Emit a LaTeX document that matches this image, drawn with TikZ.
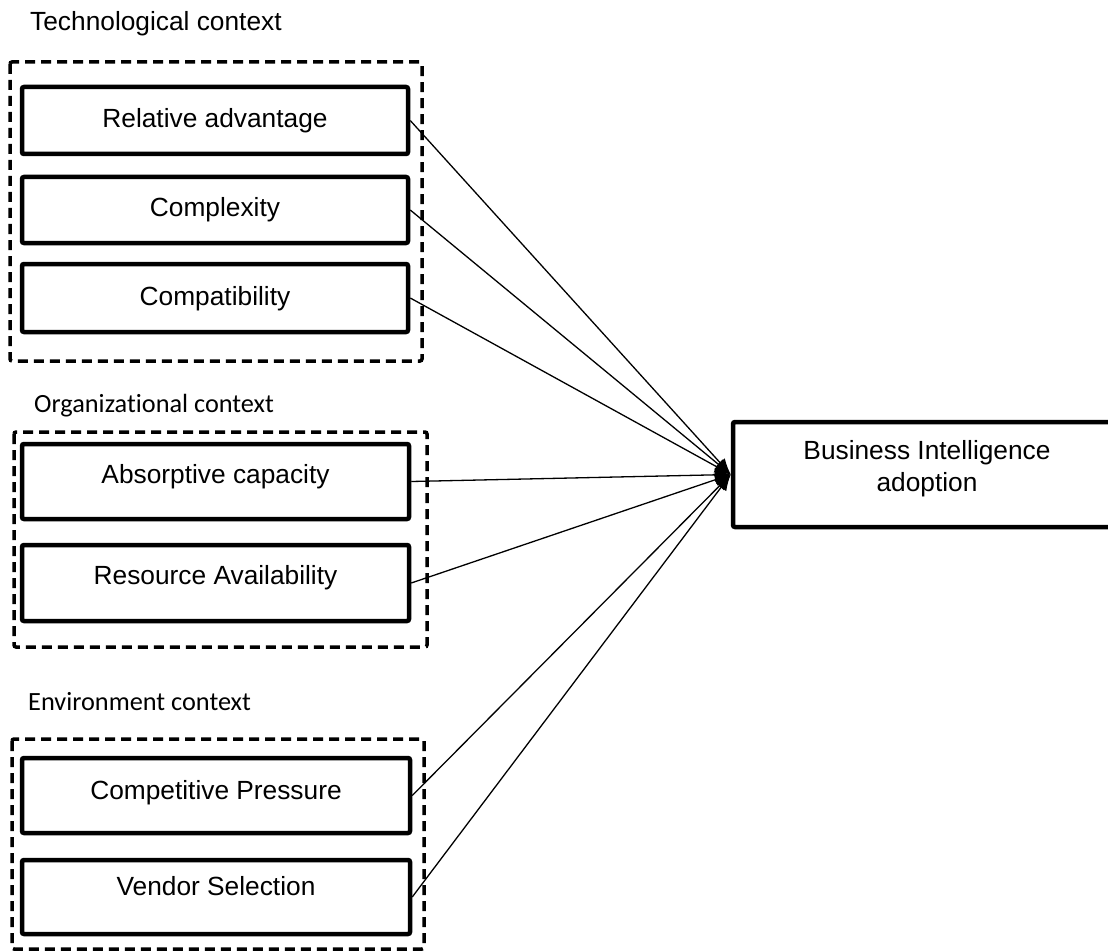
\documentclass[tikz,border=0pt]{standalone}
\usepackage{fontspec}
\setmainfont{Liberation Sans}
\newfontfamily\calibrilike[Ligatures=NoCommon]{Carlito}
\usetikzlibrary{arrows.meta}

\begin{document}
\begin{tikzpicture}[x=1pt,y=-1pt,
  every node/.style={font=\fontsize{26.3}{32}\selectfont, inner sep=0pt},
  inbox/.style={draw, line width=4.5pt, rounded corners=2pt, rectangle},
  ctxbox/.style={draw, line width=3.5pt, dash pattern=on 10pt off 6pt, rounded corners=2pt},
  boxtext/.style={anchor=base},
  ctxlabel/.style={anchor=base west},
  sublabel/.style={ctxlabel, font=\calibrilike\fontsize{26.3}{32}\selectfont},
  conn/.style={line width=1.3pt, -{Latex[length=16pt,width=13pt]}}]

\useasboundingbox (0,0) rectangle (1108,952);
\clip (0,0) rectangle (1108,952);

% context frames
\draw[ctxbox] (10,62) rectangle (422,361);
\draw[ctxbox] (14,432) rectangle (427,647);
\draw[ctxbox] (12,739) rectangle (424,949);

% context headings
\node[ctxlabel] (lt) at (30,30.5) {Technological context};
\node[sublabel] (lo) at (34,412.5) {Organizational context};
\node[sublabel] (le) at (28,710) {Environment context};

% factor boxes
\node[inbox, minimum width=386pt, minimum height=67pt] (ra) at (215,120.5) {};
\node[inbox, minimum width=386pt, minimum height=66pt] (cx) at (215,210) {};
\node[inbox, minimum width=386pt, minimum height=68pt] (cp) at (215,298) {};
\node[inbox, minimum width=387pt, minimum height=75pt] (ab) at (215.5,481.5) {};
\node[inbox, minimum width=387pt, minimum height=76pt] (rs) at (215.5,583) {};
\node[inbox, minimum width=388pt, minimum height=75pt] (cpp) at (216,795.5) {};
\node[inbox, minimum width=388pt, minimum height=74pt] (vs) at (216,897) {};

\node[boxtext] (tra) at (215,127.5) {Relative advantage};
\node[boxtext] (tcx) at (215,216.5) {Complexity};
\node[boxtext] (tcp) at (215,305.5) {Compatibility};
\node[boxtext] (tab) at (215.5,483.5) {Absorptive capacity};
\node[boxtext] (trs) at (215.5,584.5) {Resource Availability};
\node[boxtext] (tcpp) at (216,799.5) {Competitive Pressure};
\node[boxtext] (tvs) at (216,895.5) {Vendor Selection};

% outcome box
\node[inbox, minimum width=388pt, minimum height=105pt] (bi) at (927,474.5) {};
\node[boxtext] (tbi1) at (927,459.5) {Business Intelligence};
\node[boxtext] (tbi2) at (927,491.5) {adoption};

% connectors
\foreach \src in {ra,cx,cp,ab,rs,cpp,vs}
  \draw[conn] (\src.east) -- (bi.west);

\end{tikzpicture}
\end{document}
